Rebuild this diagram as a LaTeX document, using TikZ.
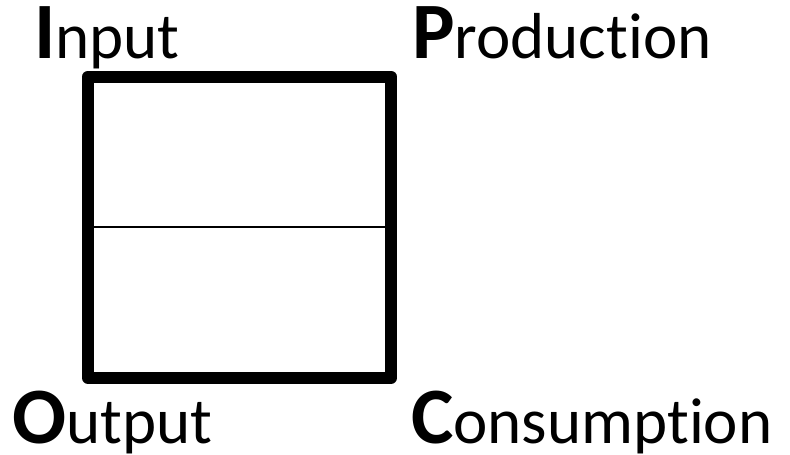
\documentclass[tikz,border=0pt]{standalone}
\usepackage{fontspec}
\setmainfont[Ligatures=NoCommon]{Carlito}
\newcommand\initl[1]{{\fontsize{80}{84}\selectfont\bfseries #1}}
\begin{document}
\begin{tikzpicture}[x=1pt,y=-1pt,
  lbl/.style={anchor=base west,inner sep=0pt,font=\fontsize{65}{70}\selectfont},
  big/.style={line width=12pt,line join=round}]
\useasboundingbox (0,0) rectangle (790,455);
\node[lbl] (in) at (34,58) {\initl{I}nput};
\node[lbl] (pr) at (412,58) {\initl{P}roduction};
\node[lbl] (out) at (12,443) {\initl{O}utput};
\node[lbl] (co) at (411,443) {\initl{C}onsumption};
\draw[big] (88,76.5) rectangle (391,378);
\coordinate (ml) at (88,227);
\coordinate (mr) at (391,227);
\draw[line width=1.5pt] (ml) -- (mr);
\end{tikzpicture}
\end{document}
